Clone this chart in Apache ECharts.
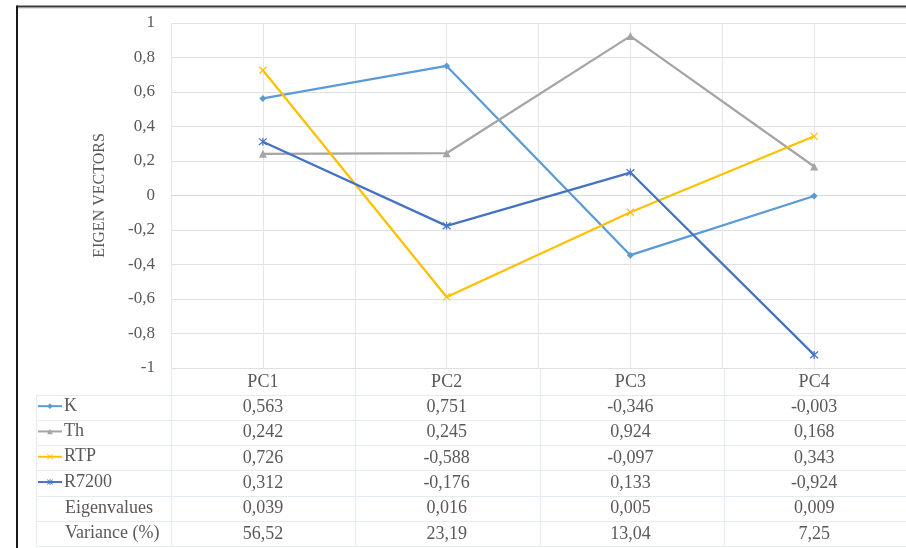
<!DOCTYPE html>
<html>
<head>
<meta charset="utf-8">
<script src="https://cdn.jsdelivr.net/npm/echarts@6/dist/echarts.min.js"></script>
<style>
html,body{margin:0;padding:0;background:#fff;}
#c{width:906px;height:548px;}
</style>
</head>
<body>
<div id="c"></div>
<script>
// ---- data ----
const categories = ['PC1', 'PC2', 'PC3', 'PC4'];
const K = [0.563, 0.751, -0.346, -0.003];
const Th = [0.242, 0.245, 0.924, 0.168];
const RTP = [0.726, -0.588, -0.097, 0.343];
const R7200 = [0.312, -0.176, 0.133, -0.924];
const eigenvalues = [0.039, 0.016, 0.005, 0.009];
const variance = [56.52, 23.19, 13.04, 7.25];
const seriesNames = ['K', 'Th', 'RTP', 'R7200'];
const extraRowNames = ['Eigenvalues', 'Variance (%)'];
const yAxisTitle = 'EIGEN VECTORS';

// ---- layout / style ----
const FONT = "'Liberation Serif', 'DejaVu Serif', serif";
const TXT = '#595959';
const GRID_L = 171, GRID_T = 23, GRID_R = -2, GRID_B = 180;
const PLOT_W = 906 - GRID_L - GRID_R;
const CAT_W = PLOT_W / categories.length;
const AXIS_Y = 548 - GRID_B;
const ROW_H = 25.3;
const TABLE_TOP = 394.5;
const TABLE_LEFT = 36;
const LINE_COL = '#e3ebf5';

const colors = ['#5B9BD5', '#A5A5A5', '#FFC000', '#4472C4'];
const symbols = ['diamond', 'triangle', 'path://M0,0L10,10M10,0L0,10', 'path://M0,0L10,10M10,0L0,10M5,-1L5,11'];
const symSizes = [7, 8, 7, 8];
const seriesData = [K, Th, RTP, R7200];

function fmt(v, d) { return v.toFixed(d).replace('.', ','); }

const rows = [
  { vals: K, d: 3 }, { vals: Th, d: 3 }, { vals: RTP, d: 3 }, { vals: R7200, d: 3 },
  { vals: eigenvalues, d: 3 }, { vals: variance, d: 2 }
];

const xAxes = [
  {
    type: 'category', data: categories, gridIndex: 0, position: 'bottom',
    boundaryGap: true,
    axisLine: { show: true, lineStyle: { color: '#d9d9d9', width: 1 } },
    axisTick: { show: false },
    splitLine: { show: false },
    axisLabel: { color: TXT, fontFamily: FONT, fontSize: 18, margin: 5 }
  },
  {
    type: 'value', min: 0, max: categories.length, interval: 0.5, gridIndex: 0, position: 'bottom',
    axisLine: { show: false }, axisTick: { show: false }, axisLabel: { show: false },
    splitLine: { show: true, lineStyle: { color: '#e6e6e6', width: 1 } }
  }
];
rows.forEach((r, k) => {
  xAxes.push({
    type: 'category', data: categories, gridIndex: 0, position: 'bottom',
    offset: ROW_H * (k + 1),
    axisLine: { show: false }, axisTick: { show: false }, splitLine: { show: false },
    axisLabel: {
      color: TXT, fontFamily: FONT, fontSize: 18, margin: 5,
      formatter: (v, i) => fmt(r.vals[i], r.d)
    }
  });
});

const series = seriesNames.map((n, i) => ({
  name: n, type: 'line', xAxisIndex: 0, yAxisIndex: 0,
  data: seriesData[i],
  symbol: symbols[i], symbolSize: symSizes[i],
  lineStyle: { color: colors[i], width: 2.25 },
  itemStyle: { color: i >= 2 ? 'rgba(0,0,0,0)' : colors[i], borderColor: colors[i], borderWidth: i >= 2 ? 1.2 : 0 },
  emphasis: { disabled: true },
  animation: false, z: 3
}));

const legends = seriesNames.map((n, i) => ({
  data: [{
    name: n,
    itemStyle: i >= 2 ? { color: 'rgba(0,0,0,0)', borderColor: colors[i], borderWidth: 1 } : { color: colors[i], borderWidth: 0 }
  }],
  orient: 'vertical', left: TABLE_LEFT + 1, top: TABLE_TOP + ROW_H * i + ROW_H / 2 - 10,
  itemWidth: 24, itemHeight: 7, itemGap: 0, padding: 0,
  textStyle: { color: TXT, fontFamily: FONT, fontSize: 18, padding: [0, 0, 0, -3] },
  selectedMode: false
}));

const graphic = [];
// outer frame
graphic.push({ type: 'line', shape: { x1: 17, y1: 6.5, x2: 906, y2: 6.5 }, style: { stroke: '#3a3a3a', lineWidth: 2 }, silent: true });
graphic.push({ type: 'line', shape: { x1: 17, y1: 8.5, x2: 906, y2: 8.5 }, style: { stroke: '#e0e0e0', lineWidth: 1 }, silent: true });
graphic.push({ type: 'line', shape: { x1: 17, y1: 5.5, x2: 17, y2: 548 }, style: { stroke: '#1a1a1a', lineWidth: 2 }, silent: true });
// table horizontal lines
for (let k = 0; k <= rows.length; k++) {
  const y = Math.round(TABLE_TOP + ROW_H * k) + 0.5;
  graphic.push({ type: 'line', shape: { x1: TABLE_LEFT, y1: y, x2: 906, y2: y }, style: { stroke: LINE_COL, lineWidth: 1 }, silent: true, z: -1 });
}
// table vertical lines
graphic.push({ type: 'line', shape: { x1: TABLE_LEFT + 0.5, y1: TABLE_TOP, x2: TABLE_LEFT + 0.5, y2: TABLE_TOP + ROW_H * rows.length }, style: { stroke: LINE_COL, lineWidth: 1 }, silent: true });
for (let c = 0; c <= categories.length; c++) {
  const x = Math.round(GRID_L + CAT_W * c) + 0.5;
  graphic.push({ type: 'line', shape: { x1: x, y1: AXIS_Y, x2: x, y2: TABLE_TOP + ROW_H * rows.length }, style: { stroke: LINE_COL, lineWidth: 1 }, silent: true });
}
// extra row names
extraRowNames.forEach((n, j) => {
  graphic.push({
    type: 'text', silent: true,
    style: { text: n, x: 65, y: TABLE_TOP + ROW_H * (seriesNames.length + j) + ROW_H / 2, fill: TXT, fontFamily: FONT, fontSize: 18, verticalAlign: 'middle', align: 'left' }
  });
});

const chart = echarts.init(document.getElementById('c'), null, { renderer: 'canvas' });
chart.setOption({
  animation: false,
  backgroundColor: '#ffffff',
  grid: { left: GRID_L, top: GRID_T, right: GRID_R, bottom: GRID_B, containLabel: false },
  xAxis: xAxes,
  yAxis: {
    type: 'value', min: -1, max: 1, interval: 0.2,
    name: yAxisTitle, nameLocation: 'middle', nameGap: 63,
    nameTextStyle: { color: TXT, fontFamily: FONT, fontSize: 16 },
    axisLine: { show: false }, axisTick: { show: false },
    axisLabel: {
      color: TXT, fontFamily: FONT, fontSize: 17, margin: 16,
      formatter: v => String(Math.round(v * 10) / 10).replace('.', ',')
    },
    splitLine: { show: true, lineStyle: { color: '#e0e0e0', width: 1 } }
  },
  legend: legends,
  series: series,
  graphic: graphic
});
</script>
</body>
</html>
